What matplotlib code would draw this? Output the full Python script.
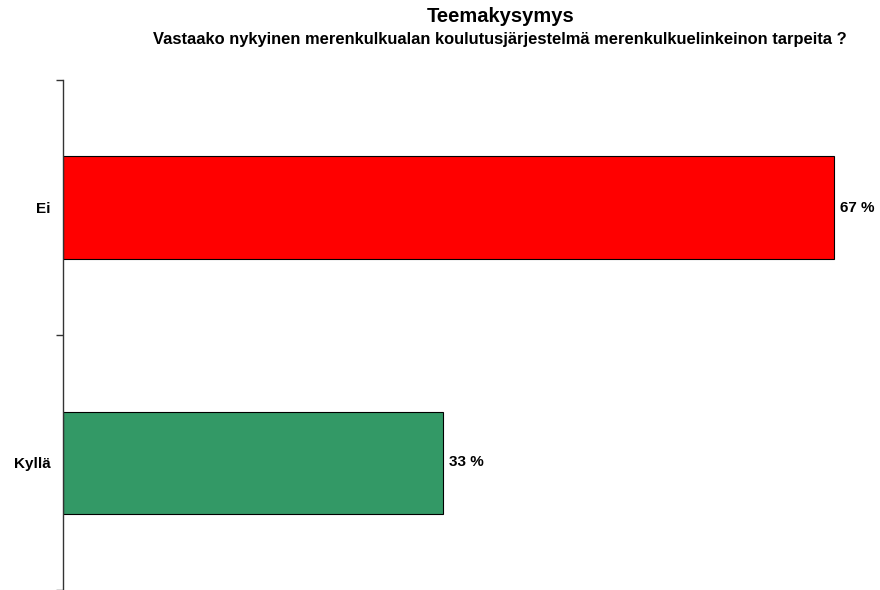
import matplotlib
matplotlib.use("Agg")
import matplotlib.pyplot as plt

categories = ["Kyllä", "Ei"]
values = [33, 67]
colors = ["#339966", "#FF0000"]
value_labels = ["33 %", "67 %"]
title = "Teemakysymys"
subtitle = "Vastaako nykyinen merenkulkualan koulutusjärjestelmä merenkulkuelinkeinon tarpeita ?"

plt.rcParams['font.family'] = ['Liberation Sans', 'DejaVu Sans']

fig = plt.figure(figsize=(8.8, 5.9), dpi=100)
ax = fig.add_axes([63/880, 0, 1 - 63/880, 510/590])

pos = list(range(len(categories)))
ax.barh(pos, values, height=0.40, color=colors, edgecolor='black', linewidth=0.8)

ax.set_xlim(0, 71)
ax.set_ylim(-0.5, 1.5)

for p, v, lab in zip(pos, values, value_labels):
    ax.text(v + 0.55, p, lab, va='center', ha='left', fontsize=11, fontweight='bold')

for s in ['top', 'right', 'bottom']:
    ax.spines[s].set_visible(False)
ax.spines['left'].set_color('#333333')
ax.spines['left'].set_linewidth(1.0)

ax.set_xticks([])
ax.set_yticks([-0.5, 0.5, 1.5])
ax.set_yticklabels([])
ax.tick_params(axis='y', which='major', length=5, width=1, color='#333333')
ax.set_yticks(pos, minor=True)
ax.set_yticklabels(categories, minor=True, fontsize=11, fontweight='bold')
ax.tick_params(axis='y', which='minor', length=0, pad=9)

fig.text(501/880, 1 - 17/590, title, ha='center', va='center', fontsize=14.5, fontweight='bold')
fig.text(500/880, 1 - 39.5/590, subtitle, ha='center', va='center', fontsize=11.9, fontweight='bold')

fig.savefig("out.png", dpi=100)
